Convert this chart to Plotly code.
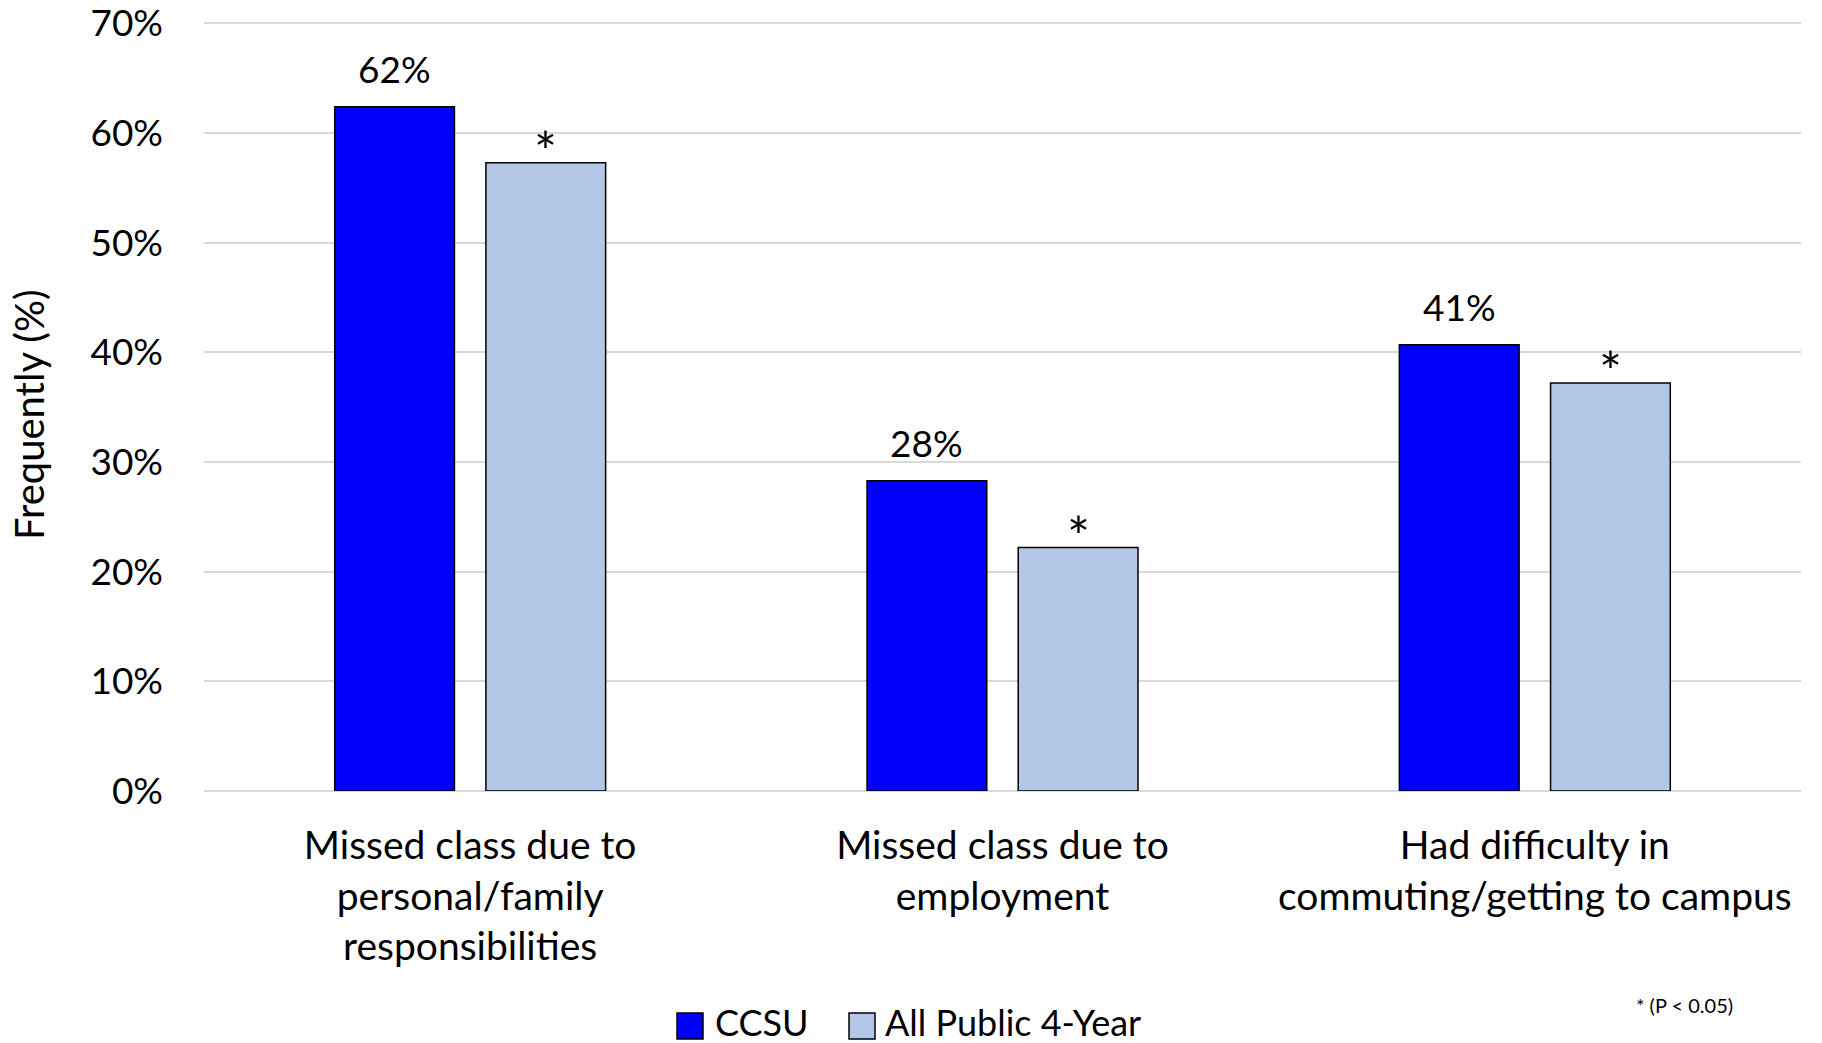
import plotly.graph_objects as go

categories = ["Missed class due to<br>personal/family<br>responsibilities",
              "Missed class due to<br>employment",
              "Had difficulty in<br>commuting/getting to campus"]
ccsu = [62.4, 28.3, 40.7]
public4 = [57.3, 22.2, 37.2]
sig = ["*", "*", "*"]
series_names = ["CCSU", "All Public 4-Year"]
colors = ["#0000FF", "#B4C7E7"]
tick_vals = [0, 10, 20, 30, 40, 50, 60, 70]
tick_text = [f"{v}%" for v in tick_vals]
Y_MAX = 70.4

FONT = "Lato"
W, H = 1822, 1043
ML, MR, MT, MB = 204, 21, 19, 252
PW, PH = W - ML - MR, H - MT - MB
BARGAP, GROUPGAP = 0.432, 0.208


def px(x):
    return (x - ML) / PW


def py(y):
    return (H - MB - y) / PH


fig = go.Figure()
fig.add_trace(go.Bar(
    x=categories, y=ccsu, name=series_names[0],
    marker=dict(color=colors[0], line=dict(color="black", width=1.5)),
))
fig.add_trace(go.Bar(
    x=categories, y=public4, name=series_names[1],
    marker=dict(color=colors[1], line=dict(color="black", width=1.5)),
))
fig.update_layout(
    width=W, height=H,
    margin=dict(l=ML, r=MR, t=MT, b=MB, autoexpand=False),
    plot_bgcolor="white", paper_bgcolor="white",
    barmode="group", bargap=BARGAP, bargroupgap=GROUPGAP,
    font=dict(family=FONT, size=37, color="black"),
    showlegend=False,
)
fig.update_yaxes(range=[0, Y_MAX], tickvals=tick_vals, ticktext=tick_text,
                 showgrid=True, gridcolor="#D9D9D9", gridwidth=1.5,
                 zeroline=True, zerolinecolor="#D9D9D9", zerolinewidth=1.5,
                 ticks="", ticklabelstandoff=40, automargin=False,
                 ticklabeloverflow="allow", tickfont=dict(size=37))
fig.update_xaxes(showline=False, ticks="", tickfont=dict(size=39),
                 ticklabelstandoff=28, automargin=False)

# value labels / significance markers above bars
slot = PW / len(categories) * (1 - BARGAP) / 2
offset = slot / 2
for cat, v1, v2, s in zip(categories, ccsu, public4, sig):
    fig.add_annotation(x=cat, y=v1, text=f"{round(v1)}%", showarrow=False,
                       xshift=-offset, yshift=14, yanchor="bottom",
                       font=dict(size=37))
    fig.add_annotation(x=cat, y=v2, text=s, showarrow=False,
                       xshift=offset, yshift=-22, yanchor="bottom",
                       font=dict(size=54))

# y axis title
fig.add_annotation(text="Frequently (%)", xref="paper", yref="paper",
                   x=px(29), y=py(415), textangle=-90, showarrow=False,
                   xanchor="center", yanchor="middle", font=dict(size=40))

# custom legend
legend_items = [(677, 713), (849, 883)]
for (sx, tx), name, col in zip(legend_items, series_names, colors):
    fig.add_shape(type="rect", xref="paper", yref="paper",
                  x0=px(sx), x1=px(sx + 26), y0=py(1039), y1=py(1013),
                  fillcolor=col, line=dict(color="black", width=1.5))
    fig.add_annotation(text=name, xref="paper", yref="paper", x=px(tx), y=py(1022),
                       xanchor="left", yanchor="middle", showarrow=False,
                       font=dict(size=36))

fig.add_annotation(text="* (P < 0.05)", xref="paper", yref="paper", x=px(1684), y=py(1005),
                   xanchor="center", yanchor="middle", showarrow=False,
                   font=dict(size=20))
fig.write_html("out.html", config={"displayModeBar": False},
               post_script="document.body.style.margin='0';document.body.style.overflow='hidden';")
